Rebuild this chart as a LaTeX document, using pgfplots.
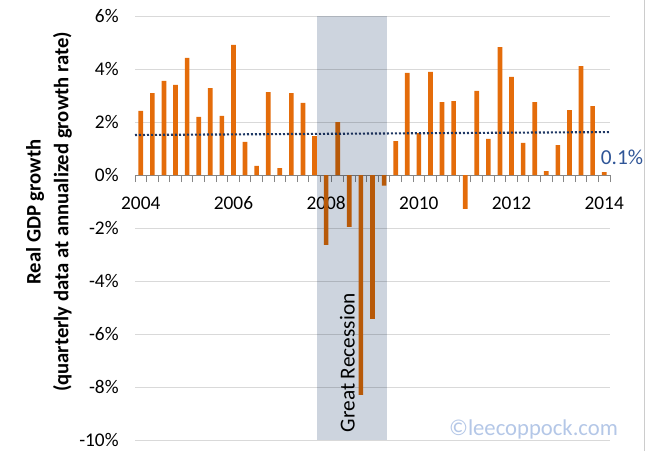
\documentclass[border=0pt]{standalone}
\usepackage{pgfplots}
\pgfplotsset{compat=1.18}
\usepackage{pgfplotstable}
\usepackage{fontspec}
\setmainfont{Carlito}

\definecolor{barorange}{RGB}{228,108,10}
\definecolor{trendblue}{RGB}{31,56,100}
\definecolor{labelblue}{RGB}{47,85,151}
\definecolor{recess}{RGB}{205,212,222}
\definecolor{gridgray}{RGB}{217,217,217}
\definecolor{axisgray}{RGB}{134,134,134}
\definecolor{markblue}{RGB}{180,199,231}

% quarterly real GDP growth, 2004Q1 .. 2014Q1 (annualized, %)
\pgfplotstableread{
q gdp
0 2.42
1 3.09
2 3.55
3 3.40
4 4.42
5 2.19
6 3.28
7 2.23
8 4.91
9 1.25
10 0.34
11 3.13
12 0.26
13 3.09
14 2.72
15 1.47
16 -2.64
17 2.00
18 -1.96
19 -8.30
20 -5.43
21 -0.40
22 1.28
23 3.85
24 1.58
25 3.89
26 2.75
27 2.79
28 -1.28
29 3.17
30 1.36
31 4.83
32 3.70
33 1.21
34 2.75
35 0.15
36 1.13
37 2.45
38 4.11
39 2.60
40 0.11
}\gdp

\begin{document}
\begin{tikzpicture}
\useasboundingbox (0,0) rectangle (485.25pt,338.25pt);
\begin{axis}[
  at={(101.25pt,8.25pt)}, anchor=south west,
  scale only axis, width=356.25pt, height=318pt,
  xmin=-0.5, xmax=40.5, ymin=-10, ymax=6,
  axis x line=middle, axis y line=left,
  axis line style={-, draw=axisgray, line width=0.75pt},
  y axis line style={draw=none},
  hide obscured x ticks=false, hide obscured y ticks=false,
  xtick={0,8,...,40}, xticklabels={2004,2006,2008,2010,2012,2014},
  major x tick style={draw=none},
  minor xtick={-0.5,0.5,...,40.5},
  minor x tick style={draw=axisgray, line width=0.75pt},
  minor tick length=5.25pt,
  tick align=outside,
  ytick={-10,-8,...,6},
  yticklabel={\pgfmathprintnumber{\tick}\%},
  ytick style={draw=none},
  ymajorgrids, grid style={gridgray, line width=0.75pt},
  tick label style={font=\fontsize{14.5}{17}\selectfont},
  /pgf/number format/assume math mode=true,
  xticklabel style={anchor=north, yshift=-8.5pt},
  yticklabel style={anchor=east, xshift=-4.5pt},
  clip=false,
]
\addplot[ybar, bar width=3.5pt, fill=barorange, draw=none] table[x=q, y=gdp] {\gdp};
\addplot[trendblue, line width=1.6pt, dash pattern=on 1.5pt off 1.5pt] coordinates {(-0.5,1.51) (40.5,1.62)};
\addplot[fill=recess, draw=none, blend mode=multiply] coordinates {(15.17,-10) (15.17,6) (21.21,6) (21.21,-10)} -- cycle;

\node[rotate=90, font=\fontsize{16}{19}\selectfont] at (axis cs:17.84,-7.09) {Great Recession};
\node[labelblue, font=\fontsize{16}{19}\selectfont] at (axis cs:41.54,0.68) {0.1\%};
\node[markblue, font=\fontsize{17}{20}\selectfont] at (axis cs:33.9,-9.62) {©leecoppock.com};
\end{axis}
\node[rotate=90, align=center, font=\bfseries\fontsize{15.5}{21}\selectfont] at (36.75pt,179.25pt) {Real GDP growth\\(quarterly data at annualized growth rate)};
\draw[gray!40, line width=0.75pt] (483.4pt,0) -- (483.4pt,338.25pt);
\end{tikzpicture}
\end{document}
